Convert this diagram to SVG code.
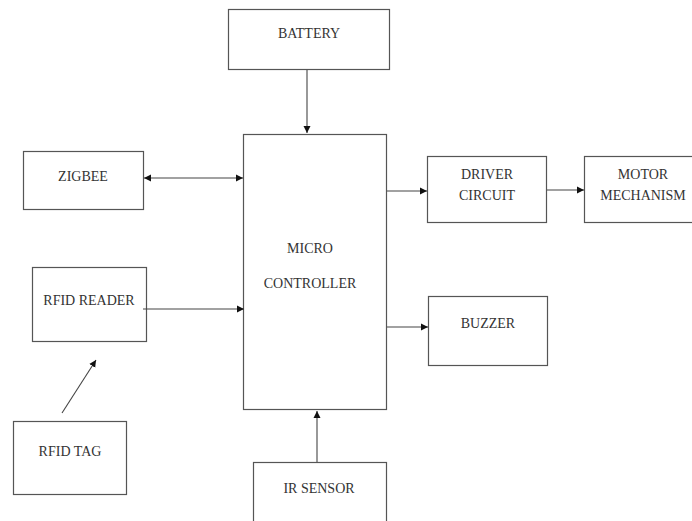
<svg xmlns="http://www.w3.org/2000/svg" width="692" height="521" viewBox="0 0 692 521">
<defs>
<marker id="ah" markerWidth="8" markerHeight="8" refX="7" refY="4" orient="auto" markerUnits="userSpaceOnUse">
<path d="M0,0.5 L7,4 L0,7.5 Z" fill="#111"/>
</marker>
<marker id="ahs" markerWidth="8" markerHeight="8" refX="0" refY="4" orient="auto" markerUnits="userSpaceOnUse">
<path d="M7,0.5 L0,4 L7,7.5 Z" fill="#111"/>
</marker>
<style>
.box{fill:#fff;stroke:#555;stroke-width:1.2}
.t{font-family:"Liberation Serif","Times New Roman",serif;font-size:14px;fill:#333;text-anchor:middle}
.c{stroke:#444;stroke-width:1.1;fill:none}
</style>
</defs>
<rect width="692" height="521" fill="#fff"/>
<g id="battery"><rect class="box" x="228.5" y="9.5" width="161" height="60"/><text class="t" x="309" y="38">BATTERY</text></g>
<g id="microcontroller"><rect class="box" x="243.5" y="134.5" width="143" height="275"/><text class="t" x="310" y="253">MICRO</text><text class="t" x="310" y="288">CONTROLLER</text></g>
<g id="zigbee"><rect class="box" x="23.5" y="151.5" width="120" height="58"/><text class="t" x="83" y="181">ZIGBEE</text></g>
<g id="rfidreader"><rect class="box" x="32.5" y="267.5" width="114" height="74"/><text class="t" x="89" y="305">RFID READER</text></g>
<g id="rfidtag"><rect class="box" x="13.5" y="421.5" width="113" height="73"/><text class="t" x="70" y="456">RFID TAG</text></g>
<g id="driver"><rect class="box" x="427.5" y="156.5" width="119" height="66"/><text class="t" x="487" y="179">DRIVER</text><text class="t" x="487" y="200">CIRCUIT</text></g>
<g id="motor"><rect class="box" x="584.5" y="156.5" width="120" height="66"/><text class="t" x="643" y="179">MOTOR</text><text class="t" x="643" y="200">MECHANISM</text></g>
<g id="buzzer"><rect class="box" x="428.5" y="296.5" width="119" height="69"/><text class="t" x="488" y="328">BUZZER</text></g>
<g id="irsensor"><rect class="box" x="253.5" y="462.5" width="133" height="70"/><text class="t" x="319" y="493">IR SENSOR</text></g>
<g id="connectors">
<line class="c" x1="307" y1="70" x2="307" y2="133" marker-end="url(#ah)"/>
<line class="c" x1="144" y1="178" x2="243" y2="178" marker-start="url(#ahs)" marker-end="url(#ah)"/>
<line class="c" x1="143" y1="309" x2="244" y2="309" marker-end="url(#ah)"/>
<line class="c" x1="62" y1="413" x2="96" y2="360" marker-end="url(#ah)"/>
<line class="c" x1="387" y1="191" x2="427" y2="191" marker-end="url(#ah)"/>
<line class="c" x1="547" y1="190" x2="584" y2="190" marker-end="url(#ah)"/>
<line class="c" x1="387" y1="327" x2="428" y2="327" marker-end="url(#ah)"/>
<line class="c" x1="317" y1="462" x2="317" y2="411" marker-end="url(#ah)"/>
</g>
</svg>
